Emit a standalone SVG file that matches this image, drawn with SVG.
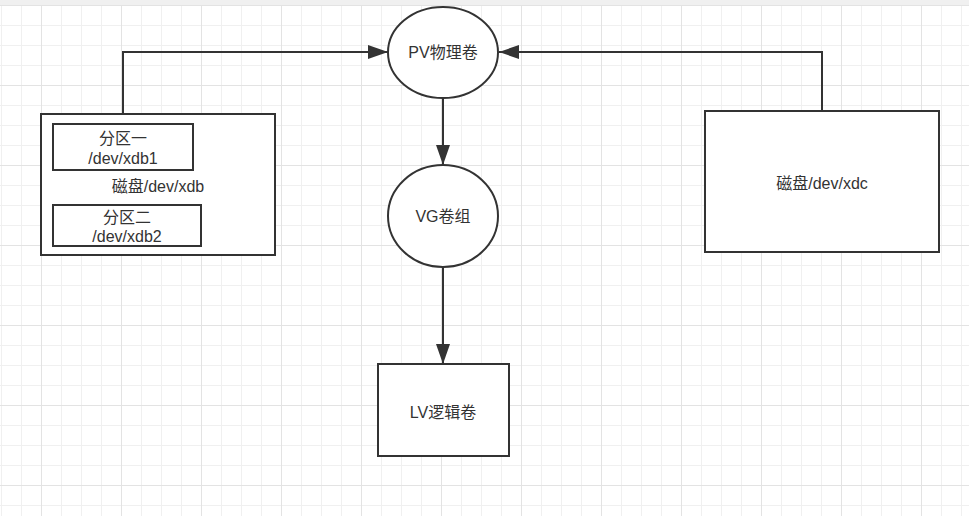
<svg xmlns="http://www.w3.org/2000/svg" width="969" height="516" viewBox="0 0 969 516">
<defs>
<pattern id="minor" x="1" y="5" width="20" height="20" patternUnits="userSpaceOnUse">
<path d="M0.5 0 V20 M0 0.5 H20" stroke="#f0f0f0" stroke-width="1" fill="none"/>
</pattern>
<pattern id="major" x="41" y="5" width="80" height="80" patternUnits="userSpaceOnUse">
<path d="M0.5 0 V80 M0 0.5 H80" stroke="#e3e3e3" stroke-width="1" fill="none"/>
</pattern>
<marker id="arr" markerUnits="userSpaceOnUse" markerWidth="20" markerHeight="14" refX="20" refY="7" orient="auto">
<path d="M0,0 L20,7 L0,14 z" fill="#333"/>
</marker>
</defs>
<style>
.shape{fill:#fff;stroke:#333;stroke-width:2}
.edge{fill:none;stroke:#333;stroke-width:2}
text{font-family:"Liberation Sans","Noto Sans CJK SC",sans-serif;font-size:16px;fill:#333;text-anchor:middle;dominant-baseline:central}
</style>
<rect width="969" height="516" fill="#fff"/>
<rect width="969" height="516" fill="url(#minor)"/>
<rect width="969" height="516" fill="url(#major)"/>
<rect width="969" height="5" fill="#f0f0f0"/>
<g id="connectors">
<path class="edge" d="M123 124 V52 H388" marker-end="url(#arr)"/>
<path class="edge" d="M822 111 V52 H499" marker-end="url(#arr)"/>
<path class="edge" d="M443 98 V165" marker-end="url(#arr)"/>
<path class="edge" d="M443 267 V364" marker-end="url(#arr)"/>
</g>
<g id="disk-xdb">
<rect class="shape" x="41" y="114" width="234" height="141"/>
<text x="158" y="186">磁盘/dev/xdb</text>
</g>
<g id="part1">
<rect class="shape" x="53" y="124" width="140" height="46"/>
<text x="123" y="138">分区一</text>
<text x="123" y="158">/dev/xdb1</text>
</g>
<g id="part2">
<rect class="shape" x="53" y="205" width="148" height="41"/>
<text x="127" y="217">分区二</text>
<text x="127" y="236">/dev/xdb2</text>
</g>
<g id="pv">
<ellipse class="shape" cx="443" cy="52.5" rx="55" ry="45.5"/>
<text x="443" y="52">PV物理卷</text>
</g>
<g id="vg">
<ellipse class="shape" cx="443" cy="216" rx="55" ry="51"/>
<text x="443" y="216">VG卷组</text>
</g>
<g id="lv">
<rect class="shape" x="378" y="364" width="131" height="92"/>
<text x="443" y="412">LV逻辑卷</text>
</g>
<g id="disk-xdc">
<rect class="shape" x="705" y="111" width="234" height="141"/>
<text x="822" y="183">磁盘/dev/xdc</text>
</g>
</svg>
